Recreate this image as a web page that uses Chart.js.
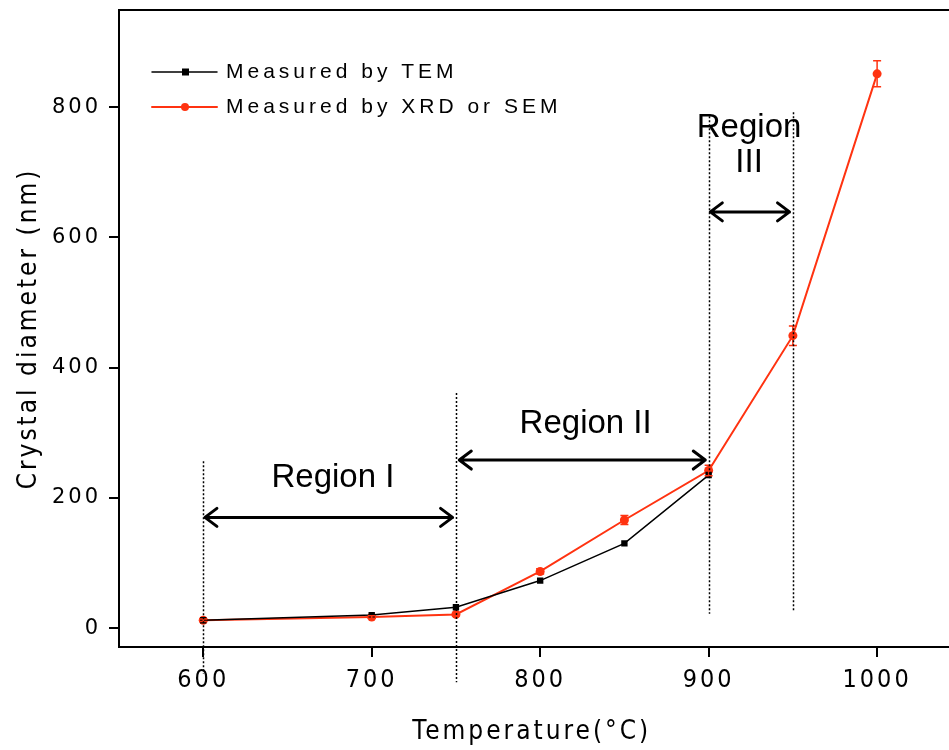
<!DOCTYPE html>
<html>
<head>
<meta charset="utf-8">
<script src="https://cdn.jsdelivr.net/npm/chart.js@4.4.1/dist/chart.umd.min.js"></script>
<style>
  html, body { margin: 0; padding: 0; background: #fff; }
  #wrap { width: 949px; height: 750px; position: relative; }
</style>
</head>
<body>
<div id="wrap"><canvas id="diameter-chart"></canvas></div>
<script>
// temperatures (C) and crystal diameters (nm)
var temTemps = [600, 700, 750, 800, 850, 900];
var temDiam  = [12, 20, 32, 73, 130, 235];

var xrdTemps = [600, 700, 750, 800, 850, 900, 950, 1000];
var xrdDiam  = [12, 17, 21, 87, 166, 242, 449, 851];
var xrdErr   = [2, 2, 2, 4, 7, 8, 15, 20];

var xTicks = [600, 700, 800, 900, 1000];
var yTicks = [0, 200, 400, 600, 800];

var seriesNames = ["Measured by TEM", "Measured by XRD or SEM"];
var regionNames = ["Region I", "Region II", "Region", "III"];

var RED = '#ff3311';
var narrow = "'Liberation Sans Narrow', 'DejaVu Sans Condensed', sans-serif";

// dotted boundaries, arrows and labels (in data units)
var bounds = [
  {x: 600, top: 256, bottom: -70},
  {x: 750, top: 361, bottom: -83},
  {x: 900, top: 786, bottom: 22},
  {x: 950, top: 792, bottom: 25}
];
var arrows = [
  {x0: 601, x1: 748, y: 170},
  {x0: 752, x1: 898, y: 258},
  {x0: 901, x1: 948, y: 639}
];
var labels = [
  {x: 677, y: 230, i: 0},
  {x: 827, y: 313, i: 1},
  {x: 924, y: 768, i: 2},
  {x: 924, y: 715, i: 3}
];

function pts(xs, ys) { return xs.map(function (x, i) { return {x: x, y: ys[i]}; }); }

var extras = {
  id: 'extras',
  beforeDraw: function (chart) {
    chart.ctx.letterSpacing = '3px';
  },
  afterDatasetsDraw: function (chart) {
    var ctx = chart.ctx, xs = chart.scales.x, ys = chart.scales.y;
    // error bars on XRD/SEM points
    ctx.save();
    ctx.strokeStyle = RED;
    ctx.lineWidth = 1.5;
    xrdTemps.forEach(function (t, i) {
      var px = xs.getPixelForValue(t);
      var a = ys.getPixelForValue(xrdDiam[i] + xrdErr[i]);
      var b = ys.getPixelForValue(xrdDiam[i] - xrdErr[i]);
      ctx.beginPath();
      ctx.moveTo(px, a); ctx.lineTo(px, b);
      ctx.moveTo(px - 4, a); ctx.lineTo(px + 4, a);
      ctx.moveTo(px - 4, b); ctx.lineTo(px + 4, b);
      ctx.stroke();
    });
    ctx.restore();
  },
  afterDraw: function (chart) {
    var ctx = chart.ctx, xs = chart.scales.x, ys = chart.scales.y, ca = chart.chartArea;
    ctx.save();
    // top frame line
    ctx.strokeStyle = '#000';
    ctx.lineWidth = 2;
    ctx.beginPath();
    ctx.moveTo(ca.left, ca.top); ctx.lineTo(chart.width, ca.top);
    ctx.moveTo(ca.right, ca.bottom); ctx.lineTo(chart.width, ca.bottom);
    ctx.stroke();

    // dotted boundaries
    ctx.lineWidth = 1.5;
    ctx.setLineDash([2, 2]);
    bounds.forEach(function (b) {
      var px = Math.round(xs.getPixelForValue(b.x)) + 0.5;
      ctx.beginPath();
      ctx.moveTo(px, ys.getPixelForValue(b.top));
      ctx.lineTo(px, ys.getPixelForValue(b.bottom));
      ctx.stroke();
    });
    ctx.setLineDash([]);

    // double arrows
    ctx.lineWidth = 3;
    ctx.lineCap = 'round';
    ctx.lineJoin = 'round';
    arrows.forEach(function (a) {
      var x0 = xs.getPixelForValue(a.x0), x1 = xs.getPixelForValue(a.x1), py = ys.getPixelForValue(a.y);
      ctx.beginPath();
      ctx.moveTo(x0, py); ctx.lineTo(x1, py);
      ctx.moveTo(x0 + 12, py - 9); ctx.lineTo(x0, py); ctx.lineTo(x0 + 12, py + 9);
      ctx.moveTo(x1 - 12, py - 9); ctx.lineTo(x1, py); ctx.lineTo(x1 - 12, py + 9);
      ctx.stroke();
    });

    // region labels
    ctx.letterSpacing = '0px';
    ctx.fillStyle = '#000';
    ctx.font = "33px 'Liberation Sans', Arial, sans-serif";
    ctx.textAlign = 'center';
    ctx.textBaseline = 'middle';
    labels.forEach(function (l) {
      ctx.fillText(regionNames[l.i], xs.getPixelForValue(l.x), ys.getPixelForValue(l.y));
    });

    // legend
    var colors = ['#000', RED];
    ctx.letterSpacing = '4px';
    ctx.font = "21px 'Liberation Sans', Arial, sans-serif";
    ctx.textAlign = 'left';
    seriesNames.forEach(function (name, i) {
      var ly = 72 + i * 35;
      ctx.strokeStyle = colors[i];
      ctx.lineWidth = i ? 2 : 1.5;
      ctx.beginPath();
      ctx.moveTo(152, ly); ctx.lineTo(217, ly);
      ctx.stroke();
      ctx.fillStyle = colors[i];
      if (i === 0) {
        ctx.fillRect(182, ly - 3.5, 7, 7);
      } else {
        ctx.beginPath(); ctx.arc(185, ly, 4, 0, Math.PI * 2); ctx.fill();
      }
      ctx.fillStyle = '#000';
      ctx.fillText(name, 226, ly);
    });
    ctx.restore();
  }
};

var ctx = document.getElementById('diameter-chart');

new Chart(ctx, {
  type: 'scatter',
  data: {
    datasets: [
      {
        label: seriesNames[0],
        data: pts(temTemps, temDiam),
        showLine: true,
        borderColor: '#000',
        backgroundColor: '#000',
        borderWidth: 1.5,
        pointStyle: 'rect',
        pointRadius: 4.5,
        pointBorderWidth: 0
      },
      {
        label: seriesNames[1],
        data: pts(xrdTemps, xrdDiam),
        showLine: true,
        borderColor: RED,
        backgroundColor: RED,
        borderWidth: 2,
        pointStyle: 'circle',
        pointRadius: 4.5,
        pointBorderWidth: 0
      }
    ]
  },
  options: {
    responsive: true, maintainAspectRatio: false, animation: false,
    layout: {padding: {top: 10, right: 0, left: 0, bottom: 0}},
    plugins: {legend: {display: false}, tooltip: {enabled: false}},
    scales: {
      x: {
        type: 'linear', min: 550, max: 1040,
        afterBuildTicks: function (s) { s.ticks = xTicks.map(function (v) { return {value: v}; }); },
        afterFit: function (s) { s.height = 103; s.paddingLeft = 0; s.paddingRight = 0; },
        grid: {drawOnChartArea: false, drawTicks: true, tickLength: 10, color: '#000', lineWidth: 2},
        border: {display: true, color: '#000', width: 2},
        ticks: {color: '#000', padding: 8, maxRotation: 0, font: {family: narrow, size: 25},
                callback: function (v) { return String(v); }},
        title: {display: true, text: 'Temperature(°C)', color: '#000', padding: {top: 0, bottom: 2},
                font: {family: narrow, size: 26}}
      },
      y: {
        type: 'linear', min: -29, max: 949,
        afterBuildTicks: function (s) { s.ticks = yTicks.map(function (v) { return {value: v}; }); },
        afterFit: function (s) { s.width = 119; s.paddingTop = 0; s.paddingBottom = 0; },
        grid: {drawOnChartArea: false, drawTicks: true, tickLength: 10, color: '#000', lineWidth: 2},
        border: {display: true, color: '#000', width: 2},
        ticks: {color: '#000', padding: 8, font: {family: "'DejaVu Sans', sans-serif", size: 21}},
        title: {display: true, text: 'Crystal diameter (nm)', color: '#000', padding: {top: 14, bottom: 0},
                font: {family: narrow, size: 26}}
      }
    }
  },
  plugins: [extras]
});
</script>
</body>
</html>
